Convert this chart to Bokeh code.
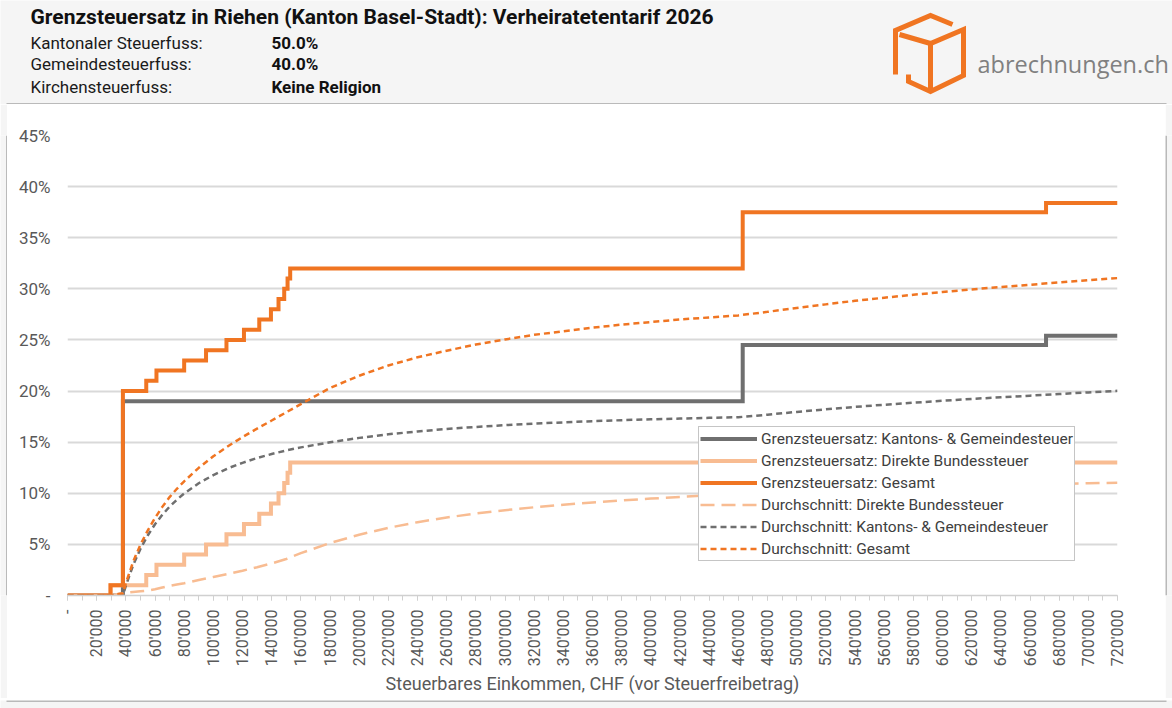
from bokeh.plotting import figure
from bokeh.layouts import column, row
from bokeh.models import Range1d, FixedTicker, Legend, LegendItem
from bokeh.core.properties import value
from bokeh.embed import file_html
from bokeh.resources import INLINE

# ---------------- data ----------------
# marginal rates (%), step "after" breakpoints, taxable income CHF
canton_x = [0, 38000, 463000, 671000, 720000]
canton_marg = [0, 19.0, 24.5, 25.4, 25.4]

fed_x = [0, 29500, 54000, 61000, 80000, 95000, 109000, 121000, 131500, 139500,
         144700, 148600, 150900, 152700, 720000]
fed_marg = [0, 1, 2, 3, 4, 5, 6, 7, 8, 9, 10, 11, 12, 13, 13]

total_x = [0, 29500, 38000, 54000, 61000, 80000, 95000, 109000, 121000, 131500,
           139500, 144700, 148600, 150900, 152700, 463000, 671000, 720000]
total_marg = [0, 1, 20, 21, 22, 23, 24, 25, 26, 27, 28, 29, 30, 31, 32, 37.5, 38.4, 38.4]

# average rates (%)
avg_x = [0, 10000, 20000, 29500, 35000, 38000, 40000, 45000, 50000, 55000, 60000,
         65000, 70000, 75000, 80000, 90000, 100000, 110000, 120000, 130000, 140000,
         150000, 160000, 180000, 200000, 220000, 240000, 260000, 280000, 300000,
         320000, 340000, 360000, 380000, 400000, 420000, 440000, 460000, 480000,
         500000, 520000, 540000, 560000, 580000, 600000, 620000, 640000, 660000,
         680000, 700000, 720000]
fed_avg = [0, 0, 0, 0, 0.16, 0.22, 0.26, 0.34, 0.41, 0.48, 0.61,
           0.78, 0.94, 1.07, 1.19, 1.51, 1.81, 2.10, 2.43, 2.77, 3.14,
           3.57, 4.14, 5.13, 5.95, 6.62, 7.17, 7.63, 8.02, 8.35,
           8.63, 8.88, 9.10, 9.30, 9.48, 9.64, 9.79, 9.93, 10.05,
           10.17, 10.27, 10.38, 10.47, 10.56, 10.64, 10.71, 10.79, 10.85,
           10.92, 10.98, 11.03]
canton_avg = [0, 0, 0, 0, 0, 0, 0.95, 2.96, 4.56, 5.87, 6.97,
              7.89, 8.69, 9.37, 9.98, 10.98, 11.78, 12.44, 12.98, 13.45, 13.84,
              14.19, 14.49, 14.99, 15.42, 15.77, 16.05, 16.29, 16.49, 16.66,
              16.81, 16.94, 17.05, 17.15, 17.24, 17.31, 17.38, 17.44, 17.69,
              17.96, 18.21, 18.45, 18.66, 18.86, 19.05, 19.23, 19.39, 19.55,
              19.71, 19.87, 20.02]
total_avg = [0, 0, 0, 0, 0.16, 0.22, 1.21, 3.30, 4.97, 6.35, 7.58,
             8.67, 9.63, 10.44, 11.17, 12.49, 13.62, 14.60, 15.50, 16.33, 17.12,
             17.92, 18.72, 20.30, 21.50, 22.50, 23.30, 23.95, 24.55, 25.05,
             25.50, 25.85, 26.20, 26.50, 26.75, 27.00, 27.20, 27.40, 27.75,
             28.13, 28.48, 28.83, 29.13, 29.42, 29.69, 29.94, 30.18, 30.40,
             30.63, 30.85, 31.05]

x_ticks = list(range(0, 720001, 20000))
x_labels = ["-" if v == 0 else f"{v // 1000}'000" for v in x_ticks]
y_ticks = [0, 5, 10, 15, 20, 25, 30, 35, 40, 45]
y_labels = ["-" if v == 0 else f"{v}%" for v in y_ticks]

legend_labels = ["Grenzsteuersatz: Kantons- & Gemeindesteuer",
                 "Grenzsteuersatz: Direkte Bundessteuer",
                 "Grenzsteuersatz: Gesamt",
                 "Durchschnitt: Direkte Bundessteuer",
                 "Durchschnitt: Kantons- & Gemeindesteuer",
                 "Durchschnitt: Gesamt"]

title_text = "Grenzsteuersatz in Riehen (Kanton Basel-Stadt): Verheiratetentarif 2026"
info_keys = ["Kantonaler Steuerfuss:", "Gemeindesteuerfuss:", "Kirchensteuerfuss:"]
info_vals = ["50.0%", "40.0%", "Keine Religion"]
logo_text = "abrechnungen.ch"

# ---------------- styling ----------------
FONT = "Roboto"
ORANGE = "#F07522"
GRAY = "#6F6F6F"
LIGHT = "#F8BC92"
PAGE = "#F5F5F5"
BORDER = "#7F7F7F"
W, H = 1172, 708
HEAD_H = 104
GUT = 7
BOT_H = 10
CH_W = W - 2 * GUT
CH_H = H - HEAD_H - BOT_H


def pixel_fig(w, h):
    """Decoration figure whose frame covers its whole canvas (data = pixels)."""
    f = figure(width=w, height=h, output_backend="svg", toolbar_location=None,
               x_range=Range1d(0, w), y_range=Range1d(h, 0),
               min_border=0, border_fill_color=PAGE, background_fill_color=PAGE)
    f.axis.visible = False
    f.grid.visible = False
    f.outline_line_color = None
    return f


# ---------------- header ----------------
head = pixel_fig(W, HEAD_H)
head.text(x=[30], y=[16], text=[title_text], text_font=value(FONT),
          text_font_size="21px", text_font_style="bold", text_color="#111111",
          text_baseline="alphabetic")
for i, (k, v) in enumerate(zip(info_keys, info_vals)):
    yb = [42, 63, 86][i]
    head.text(x=[30], y=[yb], text=[k], text_font=value(FONT), text_font_size="17px",
              text_color="#1A1A1A", text_baseline="alphabetic")
    head.text(x=[271], y=[yb], text=[v], text_font=value(FONT), text_font_size="17px",
              text_font_style="bold", text_color="#111111", text_baseline="alphabetic")
head.text(x=[977], y=[63], text=[logo_text], text_font=value("Open Sans"),
          text_font_size="23.5px", text_color="#808080", text_baseline="alphabetic")
logo_paths = [
    [(895, 74), (895, 30), (930, 15), (952, 24)],
    [(899, 34), (930, 43), (963, 29), (963, 75), (930, 91), (908, 81), (908, 74)],
    [(930, 43), (930, 91)],
]
head.multi_line(xs=[[q[0] for q in pth] for pth in logo_paths],
                ys=[[q[1] for q in pth] for pth in logo_paths],
                line_color=ORANGE, line_width=5, line_join="miter")
# top border of chart box
head.line(x=[GUT - 1, W - GUT + 1], y=[HEAD_H - 0.5, HEAD_H - 0.5], line_color=BORDER,
          line_width=1)

# ---------------- gutters ----------------
left = pixel_fig(GUT, CH_H)
left.line(x=[GUT - 0.5, GUT - 0.5], y=[0, CH_H], line_color=BORDER, line_width=1)
right = pixel_fig(GUT, CH_H)
right.line(x=[0.5, 0.5], y=[0, CH_H], line_color=BORDER, line_width=1)
bottom = pixel_fig(W, BOT_H)
bottom.line(x=[GUT - 1, W - GUT + 1], y=[0.5, 0.5], line_color=BORDER, line_width=1)

# ---------------- chart ----------------
p = figure(width=CH_W, height=CH_H, output_backend="svg", toolbar_location=None,
           x_range=Range1d(0, 720000), y_range=Range1d(0, 45),
           min_border_left=60, min_border_right=48, min_border_top=31,
           min_border_bottom=103, border_fill_color="white",
           background_fill_color="white")
p.outline_line_color = None

xa = p.xaxis[0]
xa.ticker = FixedTicker(ticks=x_ticks, minor_ticks=list(range(0, 720001, 10000)))
xa.major_label_overrides = {v: s for v, s in zip(x_ticks, x_labels)}
xa.major_label_orientation = 3.14159265 / 2
xa.major_label_text_font = FONT
xa.major_label_text_font_size = "16px"
xa.major_label_text_color = "#595959"
xa.major_label_standoff = 9
xa.axis_line_color = "#D0D0D0"
xa.axis_line_width = 1.5
xa.major_tick_line_color = "#D0D0D0"
xa.minor_tick_line_color = "#D0D0D0"
xa.major_tick_out = 5
xa.major_tick_in = 0
xa.minor_tick_out = 5
xa.minor_tick_in = 0
xa.axis_label = "Steuerbares Einkommen, CHF (vor Steuerfreibetrag)"
xa.axis_label_text_font = FONT
xa.axis_label_text_font_size = "18px"
xa.axis_label_text_font_style = "normal"
xa.axis_label_text_color = "#595959"
xa.axis_label_standoff = 4

ya = p.yaxis[0]
ya.ticker = FixedTicker(ticks=y_ticks)
ya.major_label_overrides = {v: s for v, s in zip(y_ticks, y_labels)}
ya.major_label_text_font = FONT
ya.major_label_text_font_size = "17px"
ya.major_label_text_color = "#595959"
ya.axis_line_color = None
ya.major_tick_line_color = None
ya.minor_tick_line_color = None
ya.major_tick_out = 0
ya.major_tick_in = 0
ya.major_label_standoff = 17

p.xgrid.visible = False
p.ygrid.ticker = FixedTicker(ticks=y_ticks)
p.ygrid.grid_line_color = "#D9D9D9"
p.ygrid.grid_line_width = 2

r1 = p.step(canton_x, canton_marg, mode="after", line_color=GRAY, line_width=4, line_join="miter")
r2 = p.step(fed_x, fed_marg, mode="after", line_color=LIGHT, line_width=4, line_join="miter")
r3 = p.step(total_x, total_marg, mode="after", line_color=ORANGE, line_width=4, line_join="miter")
r4 = p.line(avg_x, fed_avg, line_color=LIGHT, line_width=2.5, line_dash="14 7")
r5 = p.line(avg_x, canton_avg, line_color=GRAY, line_width=2.5, line_dash="6 4")
r6 = p.line(avg_x, total_avg, line_color=ORANGE, line_width=2.5, line_dash="6 4")

legend = Legend(items=[LegendItem(label=l, renderers=[r]) for l, r in
                       zip(legend_labels, [r1, r2, r3, r4, r5, r6])],
                location=(631, 34), orientation="vertical",
                label_text_font=FONT, label_text_font_size="15.5px",
                label_text_color="#404040", glyph_width=57, glyph_height=21,
                label_height=21, label_standoff=4, spacing=1, padding=1, margin=0,
                border_line_color="#8C8C8C", border_line_width=1,
                background_fill_color="white", background_fill_alpha=1)
p.add_layout(legend)

layout = column(head, row(left, p, right, spacing=0), bottom, spacing=0)
open("out.html", "w").write(file_html(layout, INLINE))
